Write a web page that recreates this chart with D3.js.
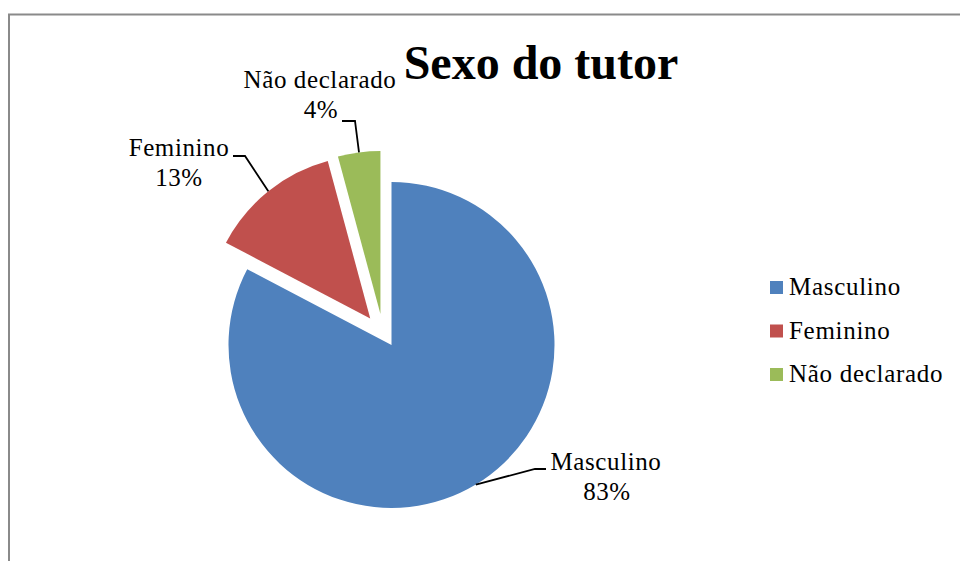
<!DOCTYPE html>
<html>
<head>
<meta charset="utf-8">
<script src="https://cdn.jsdelivr.net/npm/d3@7/dist/d3.min.js"></script>
<style>
  html, body { margin: 0; padding: 0; background: #fff; }
  svg { display: block; }
  text { font-family: "Liberation Serif", "Times New Roman", serif; fill: #000; }
</style>
</head>
<body>
<svg id="chart" width="960" height="561"></svg>
<script>
// ---- data ----
const title = "Sexo do tutor";
const categories = ["Masculino", "Feminino", "Não declarado"];
const values = [82.7, 13.1, 4.2];   // percentages
const colors = ["#4F81BD", "#C0504D", "#9BBB59"];

// ---- style / layout ----
const explode = [0, 34, 33];                 // px
const explodeTurn = [0, 0, -12];             // degrees added to the bisector direction
const labelPos = [[606, 470], [179, 156], [320, 88]];   // first-line baseline centres
const labelElbow = [[[546, 469], [535, 469]], [[233, 156], [245, 156]], [[342, 121], [355, 121]]];
const labelPct = [[607, 500], [179, 186], [321, 118]];

const svg = d3.select("#chart");
const W = 960, H = 561;
const cx = 391.5, cy = 345, R = 163;

// frame
svg.append("rect").attr("x", 9).attr("y", 14.5).attr("width", W + 20).attr("height", H + 20)
  .attr("fill", "none").attr("stroke", "#8a8a8a").attr("stroke-width", 2);

// title
svg.append("text").attr("x", 541).attr("y", 79).attr("text-anchor", "middle")
  .style("font-size", "48px").style("font-weight", "bold").text(title);

const data = categories.map((c, i) => ({ cat: c, value: values[i], i }));
const pie = d3.pie().value(d => d.value).sort(null).startAngle(0).endAngle(2 * Math.PI);
const arcs = pie(data);
const arc = d3.arc().innerRadius(0).outerRadius(R);

const g = svg.append("g").attr("transform", `translate(${cx},${cy})`);

arcs.forEach((a, i) => {
  const mid = (a.startAngle + a.endAngle) / 2;
  const dir = mid + explodeTurn[i] * Math.PI / 180;
  const dx = Math.sin(dir) * explode[i], dy = -Math.cos(dir) * explode[i];
  a.off = [dx, dy];
  a.mid = mid;
  g.append("path").attr("d", arc(a)).attr("fill", colors[i])
    .attr("transform", `translate(${dx},${dy})`);
});

// data labels + leaders
const total = d3.sum(values);
arcs.forEach((a, i) => {
  const px = cx + a.off[0] + Math.sin(a.mid) * R;
  const py = cy + a.off[1] - Math.cos(a.mid) * R;
  const pts = [[px, py], labelElbow[i][1], labelElbow[i][0]];
  svg.append("path").attr("d", d3.line()(pts)).attr("fill", "none")
    .attr("stroke", "#000").attr("stroke-width", 1.8);
  svg.append("text").attr("x", labelPos[i][0]).attr("y", labelPos[i][1])
    .attr("text-anchor", "middle").style("font-size", "25px").style("letter-spacing", "0.6px")
    .text(a.data.cat);
  svg.append("text").attr("x", labelPct[i][0]).attr("y", labelPct[i][1])
    .attr("text-anchor", "middle").style("font-size", "25px").style("letter-spacing", "0.6px")
    .text(Math.round(a.data.value / total * 100) + "%");
});

// legend
const leg = svg.append("g");
const legY = d3.scalePoint().domain(categories).range([295, 382]);
categories.forEach((c, i) => {
  leg.append("rect").attr("x", 770).attr("y", legY(c) - 14).attr("width", 13).attr("height", 13)
    .attr("fill", colors[i]);
  leg.append("text").attr("x", 789).attr("y", legY(c))
    .style("font-size", "25px").style("letter-spacing", "0.7px").text(c);
});
</script>
</body>
</html>
